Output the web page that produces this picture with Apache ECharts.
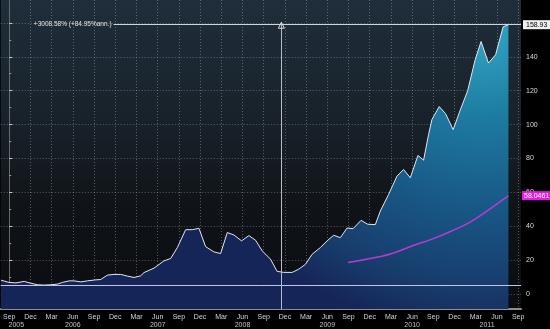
<!DOCTYPE html>
<html><head><meta charset="utf-8">
<script src="https://cdn.jsdelivr.net/npm/echarts@6/dist/echarts.min.js"></script>
<style>html,body{margin:0;padding:0;background:#000}#c{width:550px;height:329px}</style>
</head><body><div id="c"></div>
<script>
// x values: months since Sep 2005
const priceMonths = [-1.17,-0.04,0.24,0.95,2.12,2.97,4.01,4.9,5.89,6.84,7.54,8.47,9.18,10.13,11.07,12.25,12.95,13.9,14.83,15.78,16.72,17.66,18.6,19.07,20.48,21.89,22.84,23.79,24.96,25.9,26.84,27.78,28.95,29.9,30.85,31.78,32.87,33.9,34.84,35.79,36.96,37.9,38.84,40.03,40.96,41.91,42.85,44.03,44.97,45.9,46.85,47.8,48.64,49.77,50.71,51.79,52.5,53.67,54.86,55.79,56.74,57.82,58.62,59.32,59.8,60.83,61.72,62.8,63.8,64.86,65.9,66.75,67.8,68.81,69.87,70.62];
const priceValues = [8.2,6.9,5.9,6.6,7.5,6.5,5.5,5.3,5.5,5.9,6.9,7.8,7.8,7.2,7.8,8.4,8.6,11.2,11.6,11.6,10.6,9.8,10.8,12.7,15.3,19.6,21,27.5,38,38,38.8,28,24.9,23.9,36.3,34.9,31.4,34.5,31.8,25.5,20.6,13.4,12.8,12.8,14.7,17.6,23.5,27.5,31.4,34.7,33.3,39,38.6,43.5,41.2,41,49,58.8,69.6,73.5,68.6,81.8,79,94,103,110.6,106.5,97,108.5,120,138,149,136.3,141.2,157.7,158.93];
const avgMonths = [47.94,51.79,54.15,56.97,59.8,62.62,65.45,68.27,70.62];
const avgValues = [18.6,21.6,23.9,28.4,32.4,37.3,43.1,51,58.05];

const monthTickValues = [0,3,6,9,12,15,18,21,24,27,30,33,36,39,42,45,48,51,54,57,60,63,66,69,72];
const monthNames = ['Sep','Dec','Mar','Jun'];
const yearLabelMonths = [1,9,21,33,45,57,67.6];
const yearBoundaryMonths = [4,16,28,40,52,64];
const yLabelValues = [0,20,40,60,80,100,120,140];
const yGridValues = [0,20,40,60,80,100,120,140,160];
const yMinorValues = [10,30,50,70,90,110,130,150];

const lastValue = 158.93;
const lastValueText = '158.93';
const avgLastValue = 58.0461;
const avgLastText = '58.0461';
const baseValue = 5.11;
const lowMonth = 38.5;
const totalReturnText = '+3008.58% (+84.95%ann.)';

const X_MIN = -1.2, X_MAX = 72.4, Y_MIN = -8.8, Y_MAX = 173.5;
const FONT = 'Liberation Sans';

const chart = echarts.init(document.getElementById('c'), null, {renderer: 'canvas'});
const gridLine = {show: true, lineStyle: {color: 'rgba(200,205,210,0.38)', type: [1, 2], width: 1}};
const hiddenLine = {color: 'rgba(0,0,0,0)', width: 0};

chart.setOption({
  animation: false,
  backgroundColor: '#000',
  grid: {
    left: 0, right: 29, top: 0, bottom: 19, show: true, borderWidth: 0,
    backgroundColor: {type: 'linear', x: 0, y: 0, x2: 0, y2: 1, colorStops: [
      {offset: 0, color: '#1f2e3b'}, {offset: 0.4, color: '#182129'},
      {offset: 0.7, color: '#0f1216'}, {offset: 1, color: '#0a0c10'}]}
  },
  xAxis: [{
    type: 'value', min: X_MIN, max: X_MAX, position: 'bottom',
    axisLine: {show: true, onZero: false, lineStyle: {color: '#8e8e8e', width: 2}},
    axisTick: {show: false, customValues: monthTickValues},
    axisLabel: {customValues: monthTickValues, color: '#d0d4d8', fontSize: 7, fontFamily: FONT, margin: 5,
      formatter: v => monthNames[Math.round(v / 3) % 4]},
    splitLine: gridLine
  }, {
    type: 'value', min: X_MIN, max: X_MAX, position: 'bottom', offset: 11,
    axisLine: {show: false},
    axisTick: {show: true, customValues: yearBoundaryMonths, length: 8, lineStyle: {color: '#555'}},
    axisLabel: {customValues: yearLabelMonths, color: '#bfc3c7', fontSize: 7, fontFamily: FONT, margin: 2,
      formatter: v => String(2005 + Math.floor((v + 8) / 12))},
    splitLine: {show: false}
  }],
  yAxis: [{
    type: 'value', position: 'right', min: Y_MIN, max: Y_MAX,
    axisLine: {show: true, lineStyle: {color: '#6a6a6a', width: 1}},
    axisTick: {show: true, customValues: yGridValues, length: 3, lineStyle: {color: '#cfcfcf'}},
    axisLabel: {customValues: yLabelValues, color: '#dcdcdc', fontSize: 7, fontFamily: FONT, margin: 5},
    splitLine: gridLine
  }, {
    type: 'value', position: 'right', min: Y_MIN, max: Y_MAX,
    axisLine: {show: false},
    axisTick: {show: true, customValues: yMinorValues, length: 2, lineStyle: {color: '#9a9a9a'}},
    axisLabel: {show: false},
    splitLine: {show: false}
  }],
  series: [{
    type: 'line', name: 'price', xAxisIndex: 0, yAxisIndex: 0,
    data: priceMonths.map((m, i) => [m, priceValues[i]]),
    showSymbol: false, smooth: false,
    lineStyle: {color: '#e3e8ee', width: 1},
    areaStyle: {origin: 'start', opacity: 1, color: {type: 'radial', x: 0.95, y: 0, r: 1.1, colorStops: [
      {offset: 0, color: '#34a8c6'}, {offset: 0.3, color: '#1d7aa1'},
      {offset: 0.6, color: '#185684'}, {offset: 0.85, color: '#173b6b'}, {offset: 1, color: '#152558'}]}},
    markLine: {
      silent: true, symbol: ['none', 'none'], animation: false,
      data: [
        [{coord: [14.76, lastValue], lineStyle: {color: '#cfd6dc', width: 1, type: 'solid'},
          label: {show: true, position: 'start', formatter: totalReturnText, color: '#e6e6e6', fontSize: 6.5, fontFamily: FONT, distance: 2, padding: [4, 0, 0, 0]}},
         {coord: [X_MAX, lastValue]}],
        {yAxis: lastValue, lineStyle: hiddenLine,
          label: {show: true, position: 'end', formatter: lastValueText, color: '#000', backgroundColor: '#f0f0f0',
            fontSize: 7, fontFamily: FONT, padding: [1, 3, 1, 3], distance: 2}},
        {yAxis: baseValue, lineStyle: {color: '#c4c4ea', width: 1, type: 'solid'}, label: {show: false}},
        [{coord: [lowMonth, 160.6], lineStyle: {color: '#b8bcc4', width: 1, type: 'solid'}, label: {show: false}},
         {coord: [lowMonth, Y_MIN]}]
      ]
    },
    markPoint: {
      silent: true, animation: false,
      data: [{coord: [lowMonth, 158.6], symbol: 'triangle', symbolSize: [6, 6],
        itemStyle: {color: 'rgba(0,0,0,0)', borderColor: '#dcdcdc', borderWidth: 1}, label: {show: false}}]
    }
  }, {
    type: 'line', name: 'average', xAxisIndex: 0, yAxisIndex: 0,
    data: avgMonths.map((m, i) => [m, avgValues[i]]),
    showSymbol: false, smooth: true,
    lineStyle: {color: '#b63cd0', width: 1.5},
    markLine: {
      silent: true, symbol: ['none', 'none'], animation: false,
      data: [{yAxis: avgLastValue, lineStyle: hiddenLine,
        label: {show: true, position: 'end', formatter: avgLastText, color: '#fff', backgroundColor: '#e21fe0',
          fontSize: 7, fontFamily: FONT, padding: [1, 2, 1, 2], distance: 1}}]
    }
  }]
});
</script>
</body></html>
